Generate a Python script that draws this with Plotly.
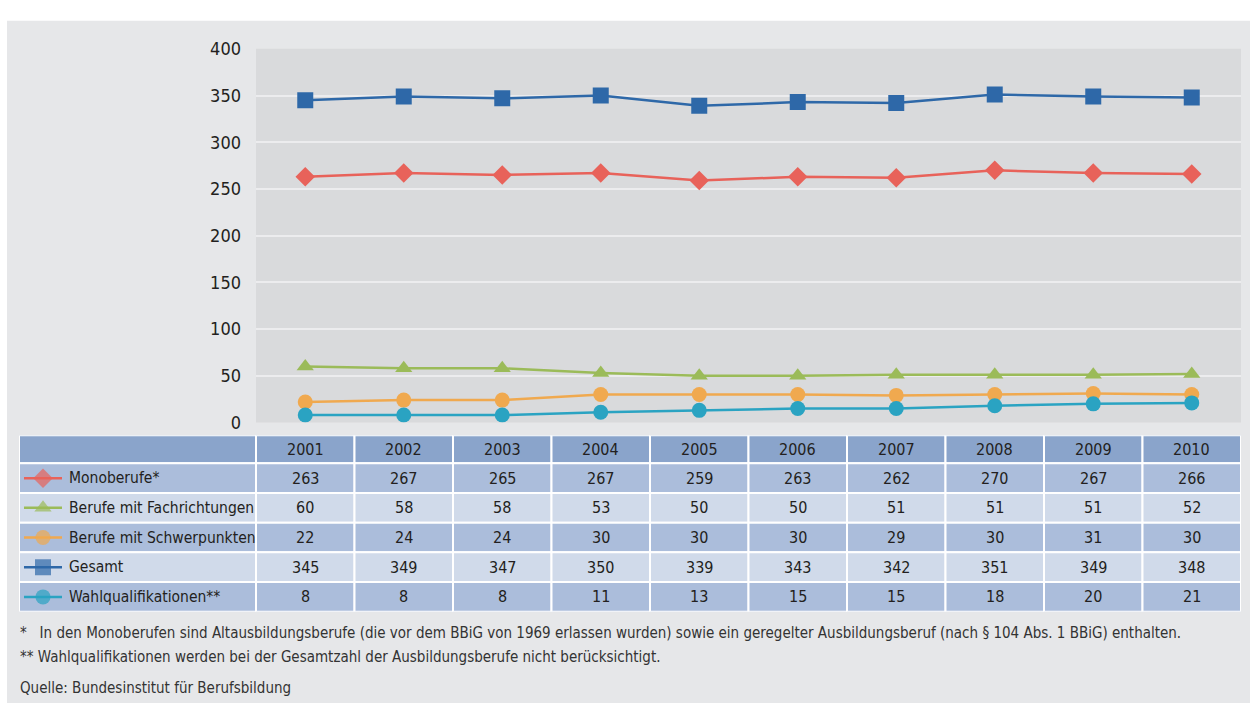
import plotly.graph_objects as go

W, H = 1250, 713

years = ["2001", "2002", "2003", "2004", "2005", "2006", "2007", "2008", "2009", "2010"]
series_names = ["Monoberufe*", "Berufe mit Fachrichtungen", "Berufe mit Schwerpunkten",
                "Gesamt", "Wahlqualifikationen**"]
monoberufe = [263, 267, 265, 267, 259, 263, 262, 270, 267, 266]
fachrichtungen = [60, 58, 58, 53, 50, 50, 51, 51, 51, 52]
schwerpunkte = [22, 24, 24, 30, 30, 30, 29, 30, 31, 30]
gesamt = [345, 349, 347, 350, 339, 343, 342, 351, 349, 348]
wahlqualifikationen = [8, 8, 8, 11, 13, 15, 15, 18, 20, 21]
series_values = [monoberufe, fachrichtungen, schwerpunkte, gesamt, wahlqualifikationen]

colors = ["#e8625a", "#9bbb59", "#f0a94f", "#2e68a8", "#2aa3c2"]
symbols = ["diamond", "triangle-up", "circle", "square", "circle"]
msizes = [15, 15, 15, 16, 15]

footnotes = [
    "*\u00a0\u00a0\u00a0In den Monoberufen sind Altausbildungsberufe (die vor dem BBiG von 1969 erlassen wurden) sowie ein geregelter Ausbildungsberuf (nach § 104 Abs. 1 BBiG) enthalten.",
    "**\u00a0Wahlqualifikationen werden bei der Gesamtzahl der Ausbildungsberufe nicht berücksichtigt.",
    "Quelle: Bundesinstitut für Berufsbildung",
]

FONT = "DejaVu Sans Condensed, Roboto, sans-serif"
TXT = "#231f20"


def px(x):
    return x / W


def py(y):
    return 1 - y / H


# layout geometry (pixels)
PLOT_L, PLOT_R, PLOT_T, PLOT_B = 256, 1241, 39, 424
TAB_L, TAB_T, TAB_B = 19, 437, 619
HEAD_H = 29
N_ROWS = len(series_names)
ROW_H = (TAB_B - TAB_T - HEAD_H) / N_ROWS
LABEL_W = PLOT_L - TAB_L
COL_W = (PLOT_R - PLOT_L) / len(years)
TAB_W = PLOT_R - TAB_L
TAB_H = TAB_B - TAB_T

HEAD_FILL = "#8aa4cb"
DARK = "#abbddb"
LIGHT = "#d0daea"
row_fills = [DARK, LIGHT, DARK, LIGHT, DARK]

fig = go.Figure()

# line chart
for name, vals, c, s, ms in zip(series_names, series_values, colors, symbols, msizes):
    fig.add_trace(go.Scatter(
        x=years, y=vals, name=name, mode="lines+markers",
        line=dict(color=c, width=2.5),
        marker=dict(symbol=s, size=ms, color=c, line=dict(width=0)),
        xaxis="x", yaxis="y", showlegend=False, hoverinfo="skip",
    ))

shapes = [
    dict(type="rect", xref="paper", yref="paper", x0=px(7), x1=1, y0=0, y1=py(10),
         fillcolor="#e6e7e9", line=dict(width=0), layer="below"),
    dict(type="rect", xref="paper", yref="paper", x0=px(PLOT_L), x1=px(PLOT_R),
         y0=py(PLOT_B), y1=py(PLOT_T), fillcolor="#d9dadc", line=dict(width=0), layer="below"),
]
annotations = []

# table on its own axes (x2, y2), units in pixels of the table box
col_edges = [0, LABEL_W] + [LABEL_W + COL_W * (i + 1) for i in range(len(years))]
row_edges = [0, HEAD_H] + [HEAD_H + ROW_H * (i + 1) for i in range(N_ROWS)]
cell_font = dict(family=FONT, size=16, color=TXT)
for r in range(N_ROWS + 1):
    fill = HEAD_FILL if r == 0 else row_fills[r - 1]
    for c in range(len(years) + 1):
        shapes.append(dict(type="rect", xref="x2", yref="y2",
                           x0=col_edges[c], x1=col_edges[c + 1],
                           y0=row_edges[r], y1=row_edges[r + 1],
                           fillcolor=fill, line=dict(color="white", width=2), layer="below"))
        ymid = (row_edges[r] + row_edges[r + 1]) / 2
        if r == 0:
            if c == 0:
                continue
            text = years[c - 1]
        else:
            text = series_names[r - 1] if c == 0 else str(series_values[r - 1][c - 1])
        if c == 0:
            annotations.append(dict(text=text, xref="x2", yref="y2", x=48, y=ymid,
                                    xanchor="left", yanchor="middle", showarrow=False,
                                    font=dict(family=FONT, size=15.5, color=TXT)))
        else:
            annotations.append(dict(text=text, xref="x2", yref="y2",
                                    x=(col_edges[c] + col_edges[c + 1]) / 2, y=ymid,
                                    xanchor="center", yanchor="middle", showarrow=False,
                                    font=cell_font))

# legend symbols inside the table's first column
SYM_X = [5, 24, 43]
for i, (name, c, s, ms) in enumerate(zip(series_names, colors, symbols, msizes)):
    ymid = (row_edges[i + 1] + row_edges[i + 2]) / 2
    fig.add_trace(go.Scatter(
        x=SYM_X, y=[ymid] * 3, mode="lines+markers",
        line=dict(color=c, width=2.5),
        marker=dict(symbol=s, size=[0, ms, 0], color=c, line=dict(width=0)),
        xaxis="x2", yaxis="y2", showlegend=False, hoverinfo="skip",
    ))

for t, yy in zip(footnotes, [641, 666, 698]):
    annotations.append(dict(text=t, xref="paper", yref="paper", x=px(18), y=py(yy),
                            xanchor="left", yanchor="middle", showarrow=False,
                            font=dict(family=FONT, size=15, color="#333333")))

fig.update_layout(
    width=W, height=H,
    margin=dict(l=0, r=0, t=0, b=0),
    paper_bgcolor="white",
    plot_bgcolor="rgba(0,0,0,0)",
    font=dict(family=FONT, color=TXT),
    xaxis=dict(domain=[px(PLOT_L), px(PLOT_R)], type="category", range=[-0.5, 9.5],
               showticklabels=False, showgrid=False, zeroline=False, showline=False, ticks=""),
    yaxis=dict(domain=[py(PLOT_B), py(PLOT_T)], range=[0, 400], dtick=50,
               showgrid=True, gridcolor="#ececee", gridwidth=2, zeroline=False,
               showline=False, ticks="", ticklabelstandoff=14,
               tickfont=dict(family=FONT, size=18, color=TXT)),
    xaxis2=dict(domain=[px(TAB_L), px(PLOT_R)], range=[0, TAB_W], visible=False, anchor="y2"),
    yaxis2=dict(domain=[py(TAB_B), py(TAB_T)], range=[TAB_H, 0], visible=False, anchor="x2"),
    shapes=shapes,
    annotations=annotations,
)

fig.write_html(
    "out.html",
    config={"displayModeBar": False, "staticPlot": True},
    post_script=("document.body.style.margin='0';"
                 "document.body.style.fontSize='0';"
                 "document.body.style.lineHeight='0';"
                 "document.documentElement.style.overflow='hidden';"),
)
